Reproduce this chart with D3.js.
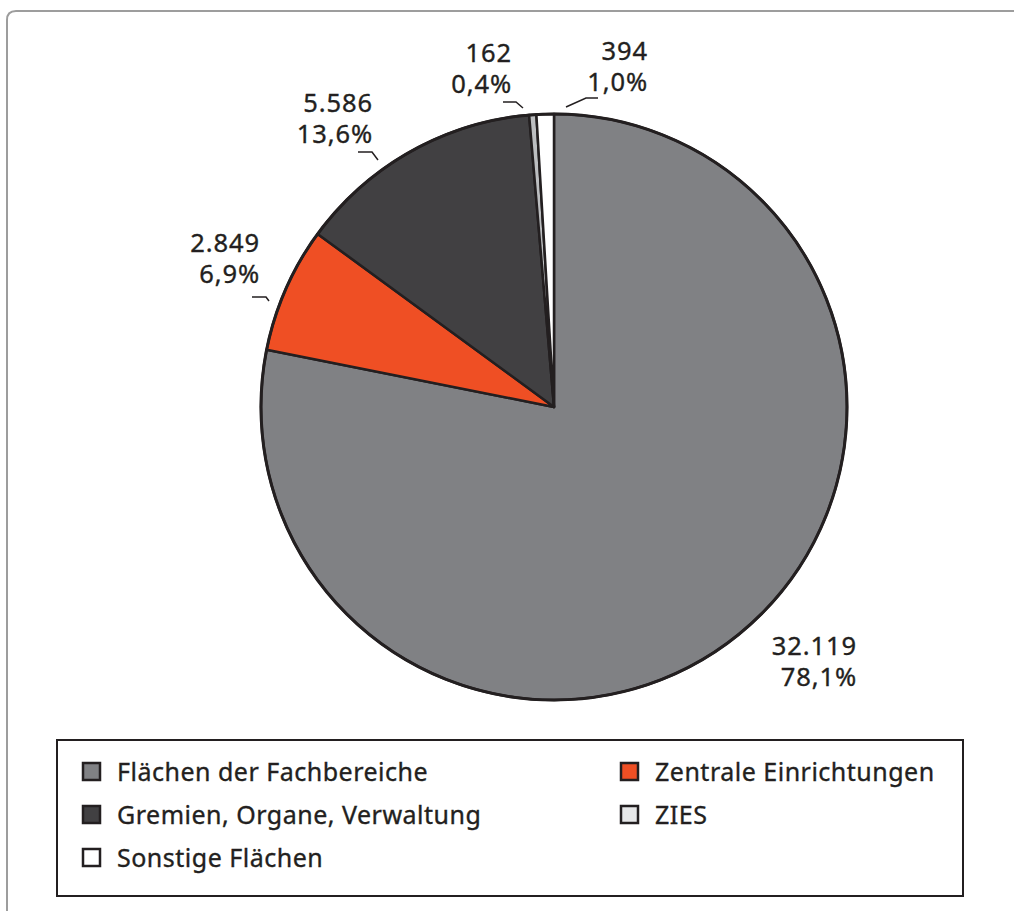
<!DOCTYPE html>
<html>
<head>
<meta charset="utf-8">
<script src="https://cdn.jsdelivr.net/npm/d3@7"></script>
<style>
  html, body { margin: 0; padding: 0; background: #fff; }
  svg { display: block; }
  text { font-family: "Noto Sans", "DejaVu Sans", sans-serif; fill: #231f20; stroke: #231f20; stroke-width: 0.35px; }
</style>
</head>
<body>
<script>
// Flächenverteilung (m²) nach Nutzungsart
const categories = ["Flächen der Fachbereiche", "Zentrale Einrichtungen", "Gremien, Organe, Verwaltung", "ZIES", "Sonstige Flächen"];
const values = [32119, 2849, 5586, 162, 394];
const valueLabels = ["32.119", "2.849", "5.586", "162", "394"];
const percentLabels = ["78,1%", "6,9%", "13,6%", "0,4%", "1,0%"];
const sliceColors = ["#808184", "#ef4f24", "#414042", "#bcbec0", "#ffffff"];
const swatchColors = ["#808184", "#ef4f24", "#414042", "#e6e7e8", "#ffffff"];
// legend order (two columns, row by row)
const legendOrder = [0, 1, 2, 3, 4];

const W = 1014, H = 911;
const cx = 554, cy = 407, R = 293;
const ink = "#231f20";

const svg = d3.select("body").append("svg").attr("width", W).attr("height", H);

// outer frame with rounded top-left corner
svg.append("path")
  .attr("d", `M7,${H} L7,20 Q7,11 16,11 L${W},11`)
  .attr("fill", "none").attr("stroke", "#9d9d9d").attr("stroke-width", 2);

const data = categories.map((c, i) => ({ name: c, value: values[i], i }));

const pie = d3.pie().value(d => d.value).sort(null);
const arcs = pie(data);
const arc = d3.arc().innerRadius(0).outerRadius(R);

const g = svg.append("g").attr("transform", `translate(${cx},${cy})`);
g.selectAll("path.slice").data(arcs).enter().append("path")
  .attr("class", "slice")
  .attr("d", arc)
  .attr("fill", d => sliceColors[d.data.i])
  .attr("stroke", ink).attr("stroke-width", 2.5).attr("stroke-linejoin", "round");
g.append("circle").attr("r", R).attr("fill", "none").attr("stroke", ink).attr("stroke-width", 3);

// label placement relative to the pie centre: text anchor point and leader polyline
const labelLayout = [
  { x: 303, y: 248, leader: null },
  { x: -294, y: -155, leader: [[-302, -110], [-288, -110], [-285, -106]] },
  { x: -181, y: -295, leader: [[-196, -255], [-182, -255], [-176, -247]] },
  { x: -42, y: -345, leader: [[-51, -305], [-38, -305], [-31, -299]] },
  { x: 94, y: -347, leader: [[44, -309], [32, -309], [12, -300]] }
];

const lab = g.selectAll("g.lab").data(arcs).enter().append("g").attr("class", "lab");
lab.each(function (d) {
  const L = labelLayout[d.data.i];
  const sel = d3.select(this);
  const t = sel.append("text").attr("x", L.x).attr("y", L.y)
    .attr("text-anchor", "end").style("font-size", "25.5px").style("letter-spacing", "0.9px");
  t.append("tspan").attr("x", L.x).attr("dy", 0).text(valueLabels[d.data.i]);
  t.append("tspan").attr("x", L.x).attr("dy", 31).text(percentLabels[d.data.i]);
  if (L.leader) {
    sel.append("path")
      .attr("d", d3.line()(L.leader))
      .attr("fill", "none").attr("stroke", ink).attr("stroke-width", 1.5);
  }
});

// legend box
const lg = svg.append("g");
lg.append("rect").attr("x", 57).attr("y", 740).attr("width", 906).attr("height", 156)
  .attr("fill", "#fff").attr("stroke", ink).attr("stroke-width", 2);

const colX = [83, 621], rowY = [772, 815, 858];
legendOrder.forEach((idx, k) => {
  const col = k % 2, row = Math.floor(k / 2);
  const x = colX[col], y = rowY[row];
  lg.append("rect").attr("x", x).attr("y", y - 9).attr("width", 17).attr("height", 17)
    .attr("fill", swatchColors[idx]).attr("stroke", ink).attr("stroke-width", 2.5);
  lg.append("text").attr("x", x + 34).attr("y", y + 9)
    .style("font-size", "25px").style("letter-spacing", "0.5px").text(categories[idx]);
});
</script>
</body>
</html>
